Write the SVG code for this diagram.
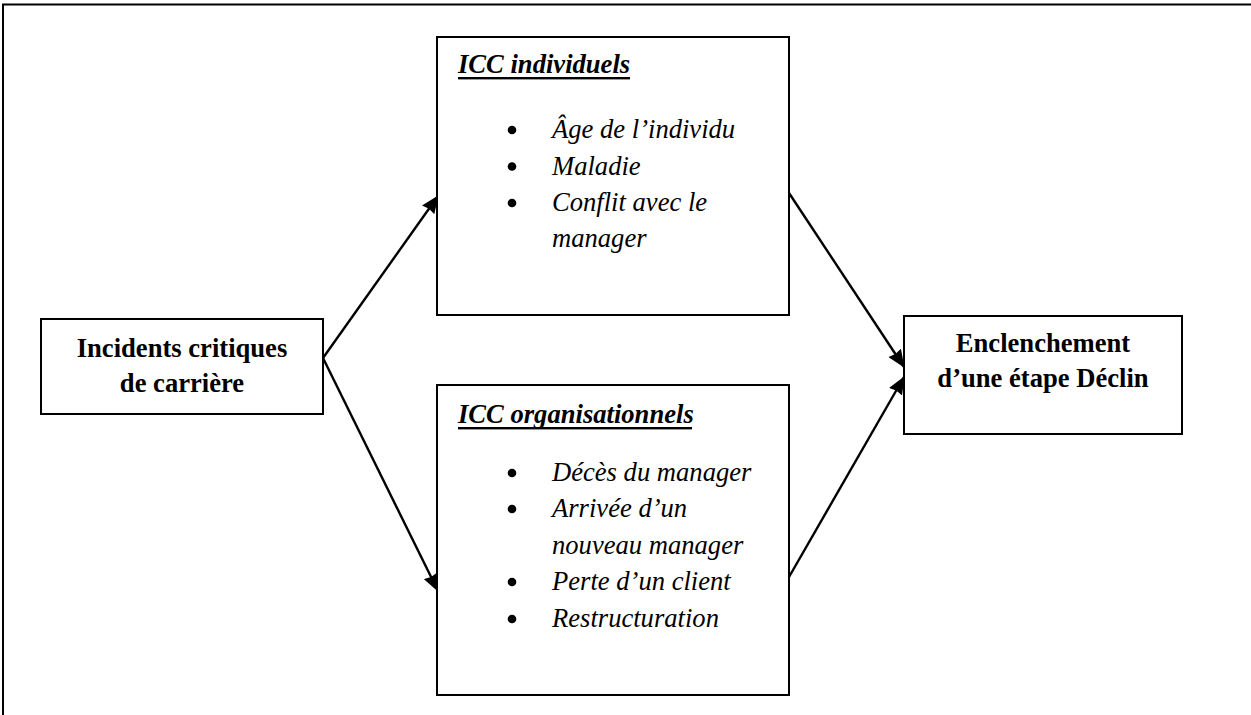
<svg xmlns="http://www.w3.org/2000/svg" width="1251" height="715" viewBox="0 0 1251 715">
<style>
.box{fill:#fff;stroke:#000;stroke-width:2}
.frame{fill:none;stroke:#000;stroke-width:2}
.b{font-family:"Liberation Serif","Times New Roman",serif;font-weight:bold;font-size:26.6px;fill:#000;text-anchor:middle}
.t{font-family:"Liberation Serif","Times New Roman",serif;font-weight:bold;font-style:italic;font-size:26.6px;fill:#000}
.i{font-family:"Liberation Serif","Times New Roman",serif;font-style:italic;font-size:26.6px;fill:#000}
.ln{stroke:#000;stroke-width:2.4;fill:none;marker-end:url(#ah)}
</style>
<defs>
<marker id="ah" viewBox="0 0 18 15" refX="17" refY="7.5" markerWidth="18" markerHeight="15" markerUnits="userSpaceOnUse" orient="auto">
<path d="M0,0 L18,7.5 L0,15 L1.5,7.5 z" fill="#000"/>
</marker>
</defs>
<rect width="1251" height="715" fill="#fff"/>
<path class="frame" d="M3,715 V4.5 H1251"/>
<g id="connectors">
<line class="ln" x1="323" y1="358" x2="438" y2="196"/>
<line class="ln" x1="323" y1="358" x2="438" y2="591"/>
<line class="ln" x1="789" y1="193" x2="904" y2="367"/>
<line class="ln" x1="789" y1="577" x2="904" y2="377"/>
</g>
<g id="incidents">
<rect class="box" x="41" y="319" width="282" height="95"/>
<text class="b" x="182" y="357">Incidents critiques</text>
<text class="b" x="182" y="392">de carrière</text>
</g>
<g id="icc-individuels">
<rect class="box" x="437" y="37" width="352" height="278"/>
<text class="t" x="458" y="73">ICC individuels</text>
<rect x="458" y="77" width="172" height="2.4" fill="#000"/>
<circle cx="512" cy="130" r="4.3"/>
<text class="i" x="552" y="138">Âge de l’individu</text>
<circle cx="512" cy="166.5" r="4.3"/>
<text class="i" x="552" y="174.5">Maladie</text>
<circle cx="512" cy="203" r="4.3"/>
<text class="i" x="552" y="211">Conflit avec le</text>
<text class="i" x="552" y="247">manager</text>
</g>
<g id="icc-organisationnels">
<rect class="box" x="437" y="385" width="352" height="310"/>
<text class="t" x="458" y="423">ICC organisationnels</text>
<rect x="458" y="427" width="234" height="2.4" fill="#000"/>
<circle cx="512" cy="473" r="4.3"/>
<text class="i" x="552" y="481">Décès du manager</text>
<circle cx="512" cy="509" r="4.3"/>
<text class="i" x="552" y="517">Arrivée d’un</text>
<text class="i" x="552" y="554">nouveau manager</text>
<circle cx="512" cy="582" r="4.3"/>
<text class="i" x="552" y="590">Perte d’un client</text>
<circle cx="512" cy="619" r="4.3"/>
<text class="i" x="552" y="627">Restructuration</text>
</g>
<g id="enclenchement">
<rect class="box" x="904" y="316" width="278" height="118"/>
<text class="b" x="1043" y="352">Enclenchement</text>
<text class="b" x="1043" y="387">d’une étape Déclin</text>
</g>
</svg>
